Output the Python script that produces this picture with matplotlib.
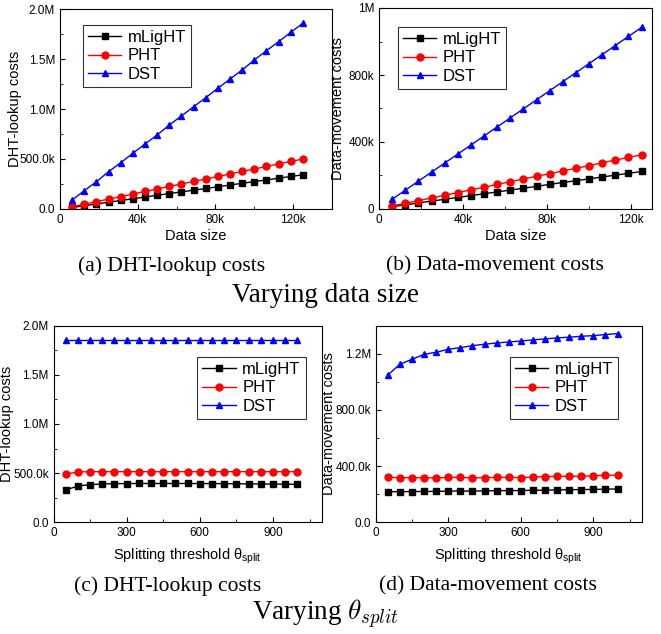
import matplotlib
matplotlib.use("Agg")
import matplotlib.pyplot as plt
from matplotlib.ticker import FixedLocator, MultipleLocator

plt.rcParams['font.family'] = ['Liberation Sans', 'DejaVu Sans']

# data size (number of records)
data_size = [6250, 12500, 18750, 25000, 31250, 37500, 43750, 50000, 56250, 62500,
             68750, 75000, 81250, 87500, 93750, 100000, 106250, 112500, 118750, 125000]
# splitting threshold
theta = [50, 100, 150, 200, 250, 300, 350, 400, 450, 500,
         550, 600, 650, 700, 750, 800, 850, 900, 950, 1000]

# (a) DHT-lookup costs vs data size (millions)
a_mlight = [0.015, 0.033, 0.050, 0.068, 0.085, 0.102, 0.120, 0.137, 0.154, 0.171,
            0.188, 0.205, 0.222, 0.240, 0.257, 0.274, 0.291, 0.308, 0.325, 0.342]
a_pht = [0.022, 0.048, 0.074, 0.099, 0.124, 0.150, 0.175, 0.200, 0.226, 0.250,
         0.276, 0.300, 0.325, 0.351, 0.375, 0.400, 0.425, 0.451, 0.475, 0.500]
a_dst = [0.090, 0.183, 0.273, 0.373, 0.463, 0.557, 0.650, 0.740, 0.840, 0.930,
         1.023, 1.113, 1.207, 1.300, 1.390, 1.490, 1.583, 1.673, 1.767, 1.857]

# (b) data-movement costs vs data size (thousands)
b_mlight = [14, 25, 36, 47, 58, 69, 80, 91, 102, 113,
            124, 135, 147, 158, 169, 180, 191, 202, 213, 224]
b_pht = [18, 34, 50, 66, 82, 98, 114, 130, 147, 163,
         179, 195, 211, 227, 243, 259, 276, 292, 308, 324]
b_dst = [58, 112, 166, 220, 274, 328, 382, 436, 490, 544,
         598, 652, 706, 760, 814, 868, 922, 976, 1030, 1084]

# (c) DHT-lookup costs vs theta (millions)
c_mlight = [0.329, 0.369, 0.383, 0.390, 0.393, 0.394, 0.395, 0.395, 0.395, 0.395,
            0.395, 0.394, 0.394, 0.393, 0.392, 0.391, 0.390, 0.389, 0.388, 0.387]
c_pht = [0.490, 0.512, 0.515, 0.515, 0.515, 0.515, 0.515, 0.515, 0.515, 0.515,
         0.515, 0.515, 0.515, 0.515, 0.515, 0.515, 0.515, 0.515, 0.515, 0.515]
c_dst = [1.854, 1.854, 1.854, 1.854, 1.854, 1.854, 1.854, 1.854, 1.854, 1.854,
         1.854, 1.854, 1.854, 1.854, 1.854, 1.854, 1.854, 1.854, 1.854, 1.854]

# (d) data-movement costs vs theta (thousands)
d_mlight = [218, 218, 219, 220, 220, 222, 223, 222, 224, 225,
            226, 226, 228, 229, 231, 232, 233, 234, 236, 237]
d_pht = [320, 318, 318, 318, 316, 320, 320, 316, 318, 320,
         320, 318, 322, 325, 328, 327, 328, 330, 336, 335]
d_dst = [1049, 1125, 1161, 1196, 1211, 1232, 1244, 1258, 1268, 1277,
         1284, 1291, 1299, 1306, 1313, 1318, 1325, 1329, 1337, 1344]

names = ['mLigHT', 'PHT', 'DST']
colors = ['black', 'red', 'blue']
markers = ['s', 'o', '^']

W, H = 661, 634
fig = plt.figure(figsize=(W / 100, H / 100), dpi=100)


def box(x0, y0, x1, y1):
    return [x0 / W, 1 - y1 / H, (x1 - x0) / W, (y1 - y0) / H]


def draw(ax, x, series, scale, legend_at):
    for ys, name, c, m in zip(series, names, colors, markers):
        ax.plot(x, [v * scale for v in ys], color=c, marker=m, markersize=5,
                linewidth=1.0, label=name)
    ax.tick_params(which='both', direction='in', labelsize=8.5, top=False, right=False)
    ax.tick_params(which='major', length=3.5)
    ax.tick_params(which='minor', length=2)
    leg = ax.legend(loc='upper left', bbox_to_anchor=legend_at, fontsize=12,
                    frameon=True, fancybox=False, edgecolor='black',
                    handlelength=2.0, borderpad=0.3, labelspacing=0.2,
                    handletextpad=0.4, borderaxespad=0)
    leg.get_frame().set_linewidth(0.8)


# (a)
ax = fig.add_axes(box(60, 9, 332, 209))
draw(ax, data_size, [a_mlight, a_pht, a_dst], 1e6, (0.085, 0.92))
ax.set_xlim(0, 140000)
ax.set_ylim(0, 2e6)
ax.xaxis.set_major_locator(FixedLocator([0, 40000, 80000, 120000]))
ax.xaxis.set_minor_locator(MultipleLocator(20000))
ax.set_xticklabels(['0', '40k', '80k', '120k'])
ax.yaxis.set_major_locator(FixedLocator([0, 5e5, 1e6, 1.5e6, 2e6]))
ax.yaxis.set_minor_locator(MultipleLocator(2.5e5))
ax.set_yticklabels(['0.0', '500.0k', '1.0M', '1.5M', '2.0M'])
ax.set_xlabel('Data size', fontsize=10.5, labelpad=2)
ax.set_ylabel('DHT-lookup costs', fontsize=10.5)
ax.yaxis.set_label_coords(-38 / 272, 0.5)

# (b)
ax = fig.add_axes(box(379, 8, 652, 209))
draw(ax, data_size, [b_mlight, b_pht, b_dst], 1e3, (0.07, 0.905))
ax.set_xlim(0, 130000)
ax.set_ylim(0, 1.2e6)
ax.xaxis.set_major_locator(FixedLocator([0, 40000, 80000, 120000]))
ax.xaxis.set_minor_locator(MultipleLocator(20000))
ax.set_xticklabels(['0', '40k', '80k', '120k'])
ax.yaxis.set_major_locator(FixedLocator([0, 4e5, 8e5, 1.2e6]))
ax.yaxis.set_minor_locator(MultipleLocator(2e5))
ax.set_yticklabels(['0', '400k', '800k', '1M'])
ax.set_xlabel('Data size', fontsize=10.5, labelpad=2)
ax.set_ylabel('Data-movement costs', fontsize=10.5)
ax.yaxis.set_label_coords(-34 / 273, 0.5)

# (c)
ax = fig.add_axes(box(53.5, 325.7, 321.7, 522.3))
draw(ax, theta, [c_mlight, c_pht, c_dst], 1e6, (0.536, 0.84))
ax.set_xlim(0, 1100)
ax.set_ylim(0, 2e6)
ax.xaxis.set_major_locator(FixedLocator([0, 300, 600, 900]))
ax.xaxis.set_minor_locator(MultipleLocator(150))
ax.yaxis.set_major_locator(FixedLocator([0, 5e5, 1e6, 1.5e6, 2e6]))
ax.yaxis.set_minor_locator(MultipleLocator(2.5e5))
ax.set_yticklabels(['0.0', '500.0k', '1.0M', '1.5M', '2.0M'])
ax.set_xlabel(r'Splitting threshold θ$_{\mathregular{split}}$', fontsize=10.5, labelpad=5)
ax.set_ylabel('DHT-lookup costs', fontsize=10.5)
ax.yaxis.set_label_coords(-39 / 268, 0.5)

# (d)
ax = fig.add_axes(box(375.7, 325.7, 641.7, 522.3))
draw(ax, theta, [d_mlight, d_pht, d_dst], 1e3, (0.505, 0.84))
ax.set_xlim(0, 1100)
ax.set_ylim(0, 1.4e6)
ax.xaxis.set_major_locator(FixedLocator([0, 300, 600, 900]))
ax.xaxis.set_minor_locator(MultipleLocator(150))
ax.yaxis.set_major_locator(FixedLocator([0, 4e5, 8e5, 1.2e6]))
ax.yaxis.set_minor_locator(MultipleLocator(2e5))
ax.set_yticklabels(['0.0', '400.0k', '800.0k', '1.2M'])
ax.set_xlabel(r'Splitting threshold θ$_{\mathregular{split}}$', fontsize=10.5, labelpad=5)
ax.set_ylabel('Data-movement costs', fontsize=10.5)
ax.yaxis.set_label_coords(-40 / 266, 0.5)

# captions
serif = ['Liberation Serif', 'DejaVu Serif']
fig.text(172 / W, 1 - 266 / H, '(a) DHT-lookup costs', ha='center', va='center',
         fontsize=15.5, family=serif)
fig.text(495 / W, 1 - 266 / H, '(b) Data-movement costs', ha='center', va='center',
         fontsize=15.5, family=serif)
fig.text(326 / W, 1 - 296 / H, 'Varying data size', ha='center', va='center',
         fontsize=19.5, family=serif)
fig.text(168 / W, 1 - 586 / H, '(c) DHT-lookup costs', ha='center', va='center',
         fontsize=15.5, family=serif)
fig.text(488 / W, 1 - 586 / H, '(d) Data-movement costs', ha='center', va='center',
         fontsize=15.5, family=serif)
fig.text(326 / W, 1 - 614 / H, r'Varying $\theta_{split}$', ha='center', va='center',
         fontsize=19.5, family=serif, math_fontfamily='cm')

fig.savefig('out.png', dpi=100)
